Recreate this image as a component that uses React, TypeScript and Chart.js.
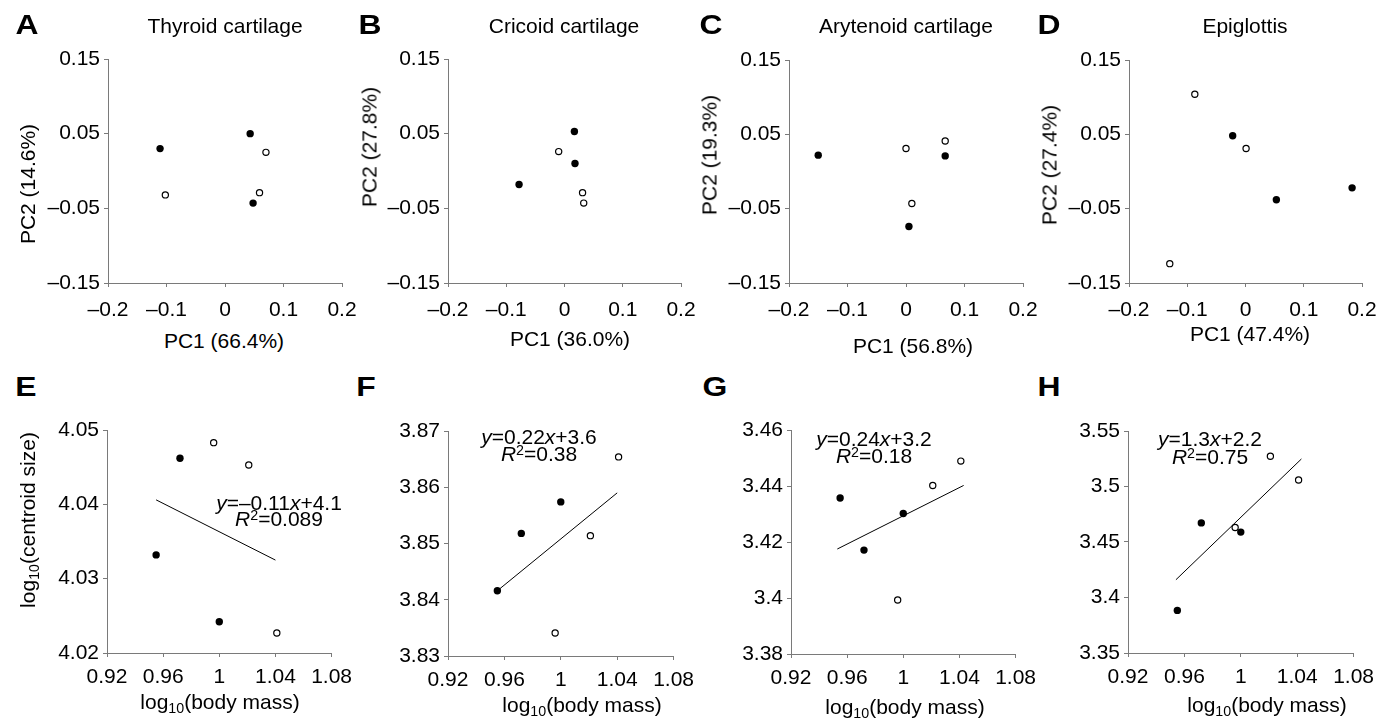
import React, { useEffect, useRef } from 'react';
import { Chart, registerables } from 'chart.js';
Chart.register(...registerables);

const FONT = '"Liberation Sans", Arial, Helvetica, sans-serif';
const AXIS = '#7a7a7a';

// ---------- Row 1: PCA scores (filled = one group, open = other group) ----------
const thyroidFilledPC1 = [-0.111, 0.043, 0.048];
const thyroidFilledPC2 = [0.030, 0.050, -0.043];
const thyroidOpenPC1 = [-0.102, 0.070, 0.059];
const thyroidOpenPC2 = [-0.032, 0.025, -0.029];

const cricoidFilledPC1 = [0.017, 0.018, -0.078];
const cricoidFilledPC2 = [0.053, 0.010, -0.018];
const cricoidOpenPC1 = [-0.010, 0.031, 0.033];
const cricoidOpenPC2 = [0.026, -0.029, -0.043];

const arytenoidFilledPC1 = [-0.150, 0.067, 0.005];
const arytenoidFilledPC2 = [0.022, 0.021, -0.074];
const arytenoidOpenPC1 = [0.000, 0.067, 0.010];
const arytenoidOpenPC2 = [0.031, 0.041, -0.043];

const epiglottisFilledPC1 = [-0.022, 0.053, 0.183];
const epiglottisFilledPC2 = [0.048, -0.038, -0.022];
const epiglottisOpenPC1 = [-0.087, 0.001, -0.130];
const epiglottisOpenPC2 = [0.104, 0.031, -0.124];

// ---------- Row 2: log10(centroid size) vs log10(body mass) ----------
const filledBodyMass = [0.955, 0.972, 1.000];
const openBodyMass = [0.996, 1.021, 1.041];

const thyroidFilledSize = [4.0332, 4.0462, 4.0242];
const thyroidOpenSize = [4.0483, 4.0453, 4.0227];
const cricoidFilledSize = [3.8416, 3.8518, 3.8574];
const cricoidOpenSize = [3.8341, 3.8514, 3.8654];
const arytenoidFilledSize = [3.4357, 3.4171, 3.4302];
const arytenoidOpenSize = [3.3993, 3.4402, 3.4489];
const epiglottisFilledSize = [3.3884, 3.4672, 3.4589];
const epiglottisOpenSize = [3.463, 3.5272, 3.5059];

// fitted regression lines (end points)
const thyroidFitX = [0.955, 1.040];
const thyroidFitY = [4.0406, 4.0325];
const cricoidFitX = [0.955, 1.040];
const cricoidFitY = [3.8416, 3.8590];
const arytenoidFitX = [0.953, 1.043];
const arytenoidFitY = [3.4175, 3.4402];
const epiglottisFitX = [0.954, 1.043];
const epiglottisFitY = [3.416, 3.5248];

// ---------- Axis ranges / tick steps ----------
const pcRange = [-0.2, 0.2, 0.1];
const pc2Range = [-0.15, 0.15, 0.1];
const massRange = [0.92, 1.08, 0.04];
const thyroidSizeRange = [4.02, 4.05, 0.01];
const cricoidSizeRange = [3.83, 3.87, 0.01];
const arytenoidSizeRange = [3.38, 3.46, 0.02];
const epiglottisSizeRange = [3.35, 3.55, 0.05];

// ---------- Text ----------
const panelLetters = ['A', 'B', 'C', 'D', 'E', 'F', 'G', 'H'];
const structureNames = ['Thyroid cartilage', 'Cricoid cartilage', 'Arytenoid cartilage', 'Epiglottis'];
const pc1Labels = ['PC1 (66.4%)', 'PC1 (36.0%)', 'PC1 (56.8%)', 'PC1 (47.4%)'];
const pc2Labels = ['PC2 (14.6%)', 'PC2 (27.8%)', 'PC2 (19.3%)', 'PC2 (27.4%)'];
const slopes = ['\u20130.11', '0.22', '0.24', '1.3'];
const intercepts = ['4.1', '3.6', '3.2', '2.2'];
const rSquared = ['0.089', '0.38', '0.18', '0.75'];

const zip = (xs: number[], ys: number[]) => xs.map((x, i) => ({ x, y: ys[i] }));

type Spec = {
  filled: { x: number; y: number }[];
  open: { x: number; y: number }[];
  fit?: { x: number; y: number }[];
  xr: number[];
  yr: number[];
  rect: number[]; // l, t, r, b of plot area (layout)
  xpad: number;
};

const specs: Spec[] = [
  { filled: zip(thyroidFilledPC1, thyroidFilledPC2), open: zip(thyroidOpenPC1, thyroidOpenPC2), xr: pcRange, yr: pc2Range, rect: [108, 59, 342, 283], xpad: 11 },
  { filled: zip(cricoidFilledPC1, cricoidFilledPC2), open: zip(cricoidOpenPC1, cricoidOpenPC2), xr: pcRange, yr: pc2Range, rect: [448, 59, 681, 283], xpad: 11 },
  { filled: zip(arytenoidFilledPC1, arytenoidFilledPC2), open: zip(arytenoidOpenPC1, arytenoidOpenPC2), xr: pcRange, yr: pc2Range, rect: [789, 60, 1023, 283], xpad: 11 },
  { filled: zip(epiglottisFilledPC1, epiglottisFilledPC2), open: zip(epiglottisOpenPC1, epiglottisOpenPC2), xr: pcRange, yr: pc2Range, rect: [1129, 60, 1362, 283], xpad: 11 },
  { filled: zip(filledBodyMass, thyroidFilledSize), open: zip(openBodyMass, thyroidOpenSize), fit: zip(thyroidFitX, thyroidFitY), xr: massRange, yr: thyroidSizeRange, rect: [107, 430, 334, 653], xpad: 8 },
  { filled: zip(filledBodyMass, cricoidFilledSize), open: zip(openBodyMass, cricoidOpenSize), fit: zip(cricoidFitX, cricoidFitY), xr: massRange, yr: cricoidSizeRange, rect: [448, 431, 676, 656], xpad: 8 },
  { filled: zip(filledBodyMass, arytenoidFilledSize), open: zip(openBodyMass, arytenoidOpenSize), fit: zip(arytenoidFitX, arytenoidFitY), xr: massRange, yr: arytenoidSizeRange, rect: [791, 430, 1018, 654], xpad: 8 },
  { filled: zip(filledBodyMass, epiglottisFilledSize), open: zip(openBodyMass, epiglottisOpenSize), fit: zip(epiglottisFitX, epiglottisFitY), xr: massRange, yr: epiglottisSizeRange, rect: [1128, 431, 1356, 653], xpad: 8 },
];

const YW = 80;
const XH = 44;
const PT = 20;
const PR = 26;

const fmt = (v: number) => {
  const r = Math.round(v * 1000) / 1000;
  const s = String(r === 0 ? 0 : r);
  return s.replace('-', '\u2013');
};

function Panel({ spec }: { spec: Spec }) {
  const ref = useRef<HTMLCanvasElement>(null);
  const [l, t, r, b] = spec.rect;
  const w = YW + (r - l) + PR;
  const h = PT + (b - t) + XH;
  useEffect(() => {
    const tickFont = { family: FONT, size: 21 };
    const datasets: any[] = [
      { data: spec.open, pointRadius: 3.1, pointBackgroundColor: '#fff', pointBorderColor: '#000', pointBorderWidth: 1.2, showLine: false },
      { data: spec.filled, pointRadius: 3.7, pointBackgroundColor: '#000', pointBorderColor: '#000', pointBorderWidth: 0, showLine: false },
    ];
    if (spec.fit) {
      datasets.push({ data: spec.fit, showLine: true, pointRadius: 0, borderColor: '#000', borderWidth: 1, fill: false });
    }
    const chart = new Chart(ref.current!, {
      type: 'scatter',
      data: { datasets },
      options: {
        animation: false,
        responsive: false,
        devicePixelRatio: 1,
        layout: { padding: { left: 0, top: PT, right: PR, bottom: 0 } },
        plugins: { legend: { display: false }, tooltip: { enabled: false }, title: { display: false } },
        scales: {
          x: {
            type: 'linear',
            min: spec.xr[0],
            max: spec.xr[1],
            ticks: { stepSize: spec.xr[2], callback: (v: any) => fmt(Number(v)), font: tickFont, color: '#000', padding: spec.xpad, maxRotation: 0, autoSkip: false },
            grid: { display: true, drawOnChartArea: false, drawTicks: true, tickLength: 4, color: AXIS },
            border: { display: true, color: AXIS, width: 1 },
            afterFit: (s: any) => { s.height = XH; },
          },
          y: {
            type: 'linear',
            min: spec.yr[0],
            max: spec.yr[1],
            ticks: { stepSize: spec.yr[2], callback: (v: any) => fmt(Number(v)), font: tickFont, color: '#000', padding: 4, autoSkip: false },
            grid: { display: true, drawOnChartArea: false, drawTicks: true, tickLength: 4, color: AXIS },
            border: { display: true, color: AXIS, width: 1 },
            afterFit: (s: any) => { s.width = YW; },
          },
        },
      } as any,
    });
    return () => chart.destroy();
  }, []);
  return (
    <canvas
      ref={ref}
      width={w}
      height={h}
      style={{ position: 'absolute', left: l - YW, top: t - PT, width: w, height: h }}
    />
  );
}

function T({ cx, cy, size, bold, rotate, sx, children }: any) {
  return (
    <div
      style={{
        position: 'absolute',
        left: cx,
        top: cy,
        transform: `translate(-50%, -50%)${rotate ? ' rotate(-90deg)' : ''}${sx ? ` scaleX(${sx})` : ''}`,
        fontSize: size,
        lineHeight: 1,
        whiteSpace: 'nowrap',
        fontWeight: bold ? 700 : 400,
        color: '#000',
        fontFamily: FONT,
      }}
    >
      {children}
    </div>
  );
}

const Sub = ({ children }: any) => (
  <span style={{ fontSize: '0.68em', position: 'relative', top: '0.3em', lineHeight: 0 }}>{children}</span>
);
const Sup = ({ children }: any) => (
  <span style={{ fontSize: '0.68em', position: 'relative', top: '-0.4em', lineHeight: 0 }}>{children}</span>
);

// text layout (centres, px)
const letterPos = [[27, 25], [370, 25], [711, 25], [1049, 25], [26, 387], [366, 387], [715, 387], [1049, 387]];
const titlePos = [[225, 25], [564, 25], [906, 25], [1245, 25]];
const xTitlePos = [[224, 340], [570, 338], [913, 345], [1250, 333], [220, 701], [582, 704], [905, 706], [1267, 704]];
const yTitlePos = [[27, 184], [369, 147], [709, 155], [1049, 165], [27, 520]];
const eqPos = [[279, 502, 518], [539, 436, 453], [874, 438, 455], [1210, 438, 456]];

export default function App() {
  return (
    <div style={{ position: 'absolute', left: 0, top: 0, width: 1392, height: 721, background: '#fff', overflow: 'hidden', fontFamily: FONT }}>
      {specs.map((s, i) => <Panel key={i} spec={s} />)}
      {panelLetters.map((L, i) => (
        <T key={'L' + i} cx={letterPos[i][0]} cy={letterPos[i][1]} size={27} sx={1.18} bold>{L}</T>
      ))}
      {structureNames.map((n, i) => (
        <T key={'t' + i} cx={titlePos[i][0]} cy={titlePos[i][1]} size={21}>{n}</T>
      ))}
      {pc1Labels.map((n, i) => (
        <T key={'x' + i} cx={xTitlePos[i][0]} cy={xTitlePos[i][1]} size={21}>{n}</T>
      ))}
      {[4, 5, 6, 7].map((i) => (
        <T key={'x' + i} cx={xTitlePos[i][0]} cy={xTitlePos[i][1]} size={21}>log<Sub>10</Sub>(body mass)</T>
      ))}
      {pc2Labels.map((n, i) => (
        <T key={'y' + i} cx={yTitlePos[i][0]} cy={yTitlePos[i][1]} size={21} rotate>{n}</T>
      ))}
      <T cx={yTitlePos[4][0]} cy={yTitlePos[4][1]} size={21} rotate>log<Sub>10</Sub>(centroid size)</T>
      {eqPos.map((p, i) => (
        <React.Fragment key={'e' + i}>
          <T cx={p[0]} cy={p[1]} size={21}><i>y</i>={slopes[i]}<i>x</i>+{intercepts[i]}</T>
          <T cx={p[0]} cy={p[2]} size={21}><i>R</i><Sup>2</Sup>={rSquared[i]}</T>
        </React.Fragment>
      ))}
    </div>
  );
}
